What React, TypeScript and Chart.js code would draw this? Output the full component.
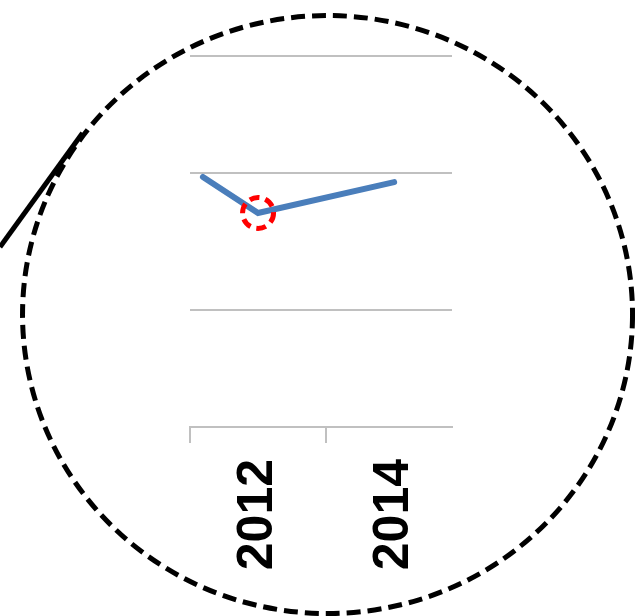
import React, { useEffect, useRef } from "react";
import { Chart, registerables } from "chart.js";

Chart.register(...registerables);

const years = [2011.19, 2012, 2014];
const values = [67.4, 57.7, 66.0];
const yTicks = [0, 31.5, 68.5, 100];
const xTicks = [2011, 2012, 2013, 2014];
const labeledYears = [2012, 2014];

const W = 635;
const H = 616;

const overlay = {
  id: "overlay",
  afterDraw(chart: any) {
    const ctx = chart.ctx;
    ctx.save();
    // red dashed highlight around the 2012 point
    const pt = chart.getDatasetMeta(0).data[1];
    if (pt) {
      ctx.beginPath();
      ctx.setLineDash([10, 6]);
      ctx.strokeStyle = "#ff0000";
      ctx.lineWidth = 5;
      ctx.arc(pt.x, pt.y, 15.5, 0, Math.PI * 2);
      ctx.stroke();
    }
    // magnifier outline
    ctx.beginPath();
    ctx.setLineDash([14, 7]);
    ctx.strokeStyle = "#000";
    ctx.lineWidth = 5;
    ctx.ellipse(W * 0.5158, H * 0.5106, 305, 299, 0, 0, Math.PI * 2);
    ctx.stroke();
    // handle line
    ctx.beginPath();
    ctx.setLineDash([]);
    ctx.lineWidth = 5;
    ctx.moveTo(0, H * 0.401);
    ctx.lineTo(W * 0.13, H * 0.216);
    ctx.stroke();
    ctx.restore();
  },
};

export default function App() {
  const ref = useRef<HTMLCanvasElement | null>(null);
  useEffect(() => {
    document.body.style.margin = "0";
    const chart = new Chart(ref.current as HTMLCanvasElement, {
      type: "line",
      data: {
        datasets: [
          {
            data: years.map((x, i) => ({ x, y: values[i] })),
            borderColor: "#4a7ebb",
            borderWidth: 6,
            borderCapStyle: "round",
            pointRadius: 0,
            tension: 0,
          },
        ],
      },
      options: {
        responsive: false,
        animation: false,
        layout: { padding: { left: 190, right: 183, top: 56, bottom: 0 } },
        plugins: { legend: { display: false }, tooltip: { enabled: false } },
        scales: {
          x: {
            type: "linear",
            min: 2011,
            max: 2014.85,
            afterBuildTicks: (s: any) => {
              s.ticks = xTicks.map((v) => ({ value: v }));
            },
            afterFit: (s: any) => {
              s.height = H - 427;
            },
            grid: {
              drawOnChartArea: false,
              drawTicks: true,
              tickLength: 16,
              lineWidth: 2,
              tickColor: (c: any) =>
                labeledYears.includes(c.tick?.value) ? "rgba(0,0,0,0)" : "#c0c0c0",
            },
            border: { display: true, color: "#c0c0c0", width: 2 },
            ticks: {
              autoSkip: false,
              minRotation: 90,
              maxRotation: 90,
              padding: 16,
              color: "#000",
              font: { family: "'Liberation Sans', Arial, sans-serif", size: 50, weight: "bold" },
              callback: (v: any) => (labeledYears.includes(Number(v)) ? String(v) : ""),
            },
          },
          y: {
            min: 0,
            max: 100,
            afterBuildTicks: (s: any) => {
              s.ticks = yTicks.map((v) => ({ value: v }));
            },
            afterFit: (s: any) => {
              s.width = 0;
            },
            grid: { color: "#c0c0c0", lineWidth: 2, drawTicks: false },
            border: { display: false },
            ticks: { display: false },
          },
        },
      },
      plugins: [overlay],
    });
    return () => chart.destroy();
  }, []);
  return <canvas ref={ref} width={W} height={H} style={{ display: "block" }} />;
}
